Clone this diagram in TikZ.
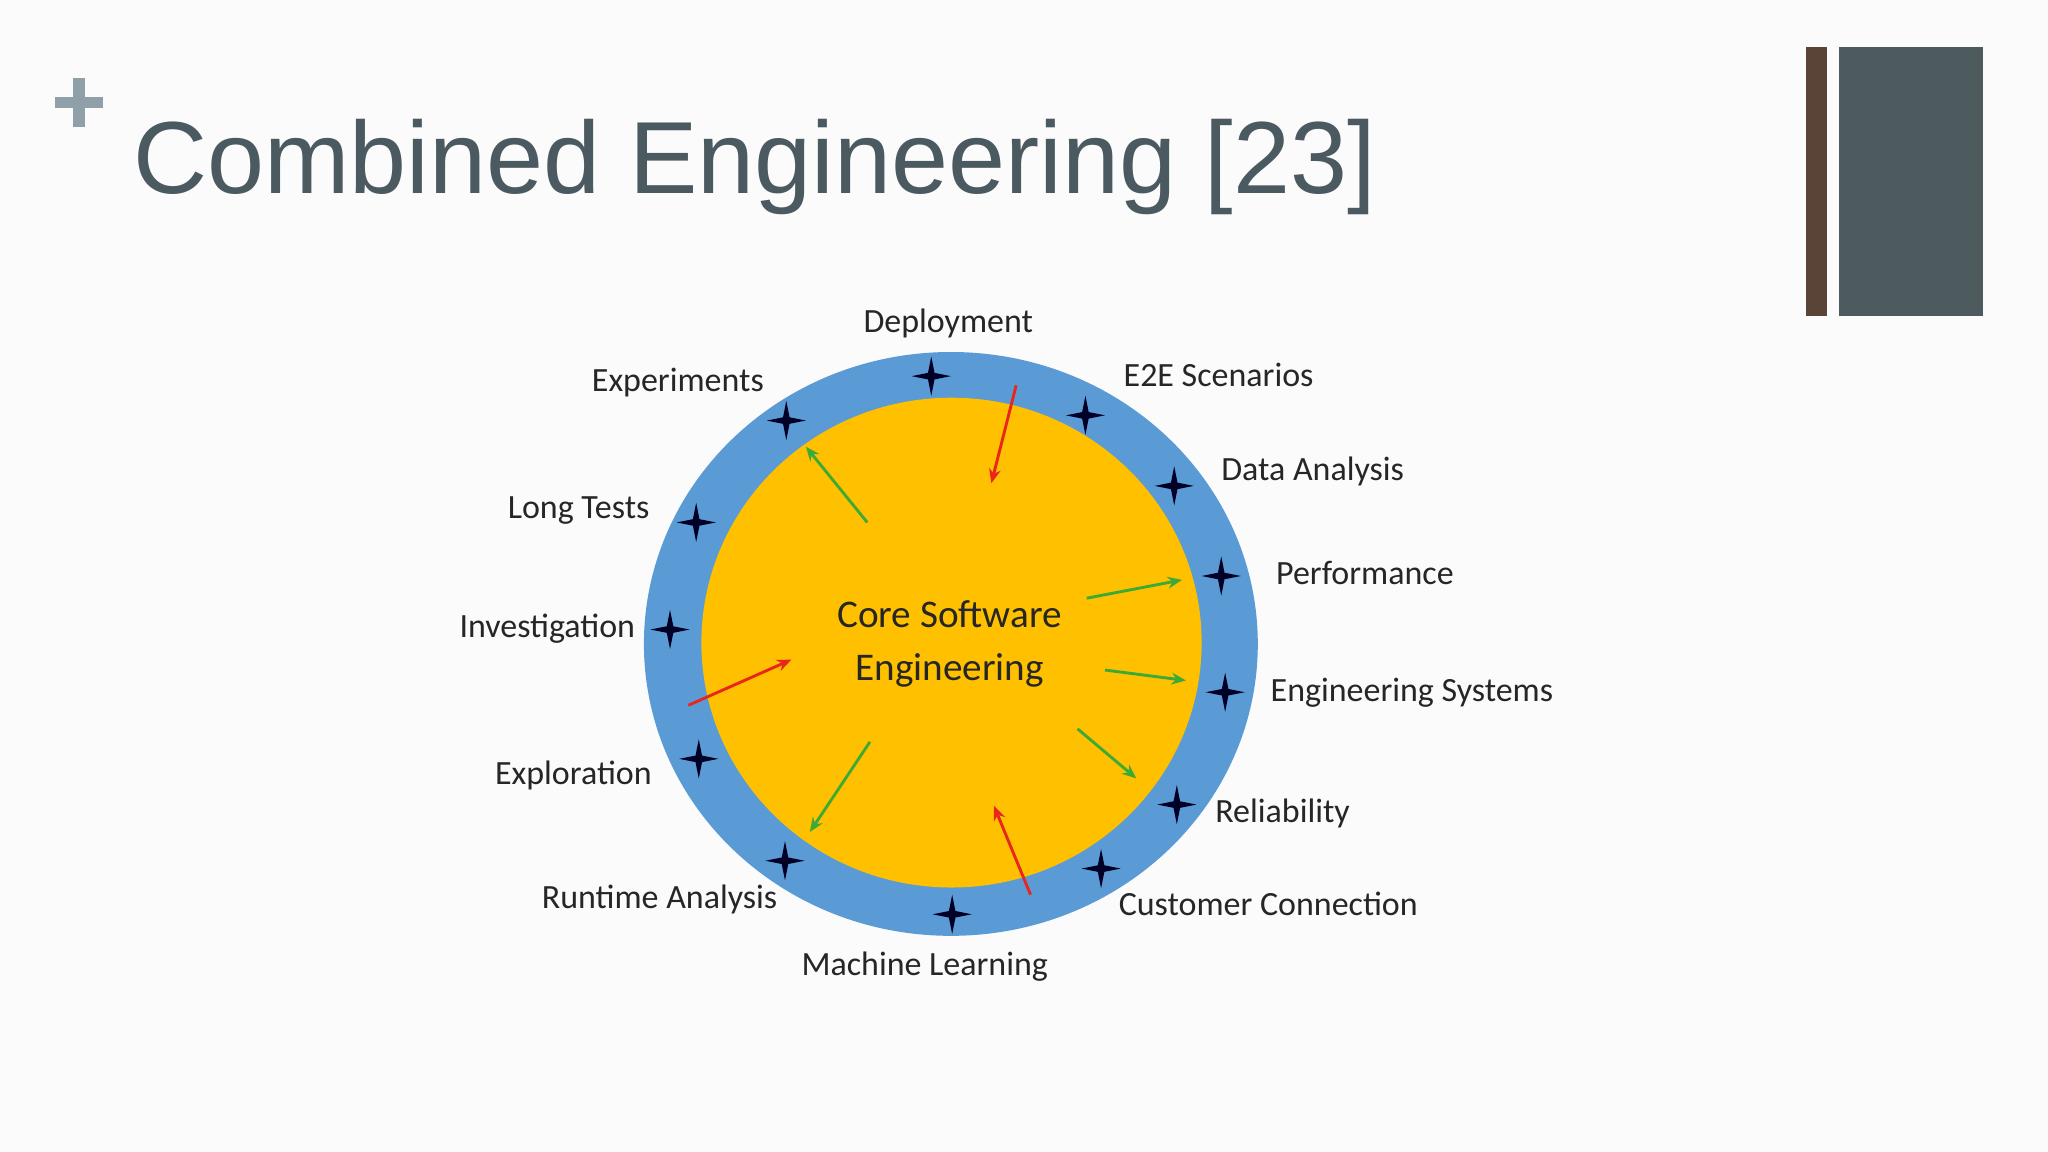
\documentclass[tikz,border=0pt]{standalone}
\usepackage{fontspec}
\setmainfont{Carlito}
\newfontfamily\titlefont{Liberation Sans}
\usetikzlibrary{arrows.meta,shapes.geometric}
\definecolor{ringblue}{HTML}{5B9BD5}
\definecolor{coreyel}{HTML}{FFC000}
\definecolor{titlegray}{HTML}{4A5A60}
\definecolor{plusgray}{HTML}{8FA0A8}
\definecolor{barbrown}{HTML}{5A4438}
\definecolor{bargray}{HTML}{4D5A5E}
\definecolor{argreen}{HTML}{3DAA35}
\definecolor{arred}{HTML}{E8261E}
\tikzset{
  lbl/.style={font=\fontsize{26}{28}\selectfont, text=black!85},
  arr/.style={line width=2.2pt,-{Stealth[length=11pt,width=9pt]}},
  star/.pic={\fill[black!85!blue] (0,-15)--(2.5,-2.5)--(15,0)--(2.5,2.5)--(0,15)--(-2.5,2.5)--(-15,0)--(-2.5,-2.5)--cycle;}
}
\begin{document}
\begin{tikzpicture}[x=1pt,y=-1pt]
\fill[white!97!gray] (0,0) rectangle (1568,882);
\useasboundingbox (0,0) rectangle (1568,882);
% plus
\fill[plusgray] (56,60) rectangle (65,97);
\fill[plusgray] (42,74) rectangle (79,83);
\node[anchor=base west, inner sep=0, text=titlegray, font=\titlefont\fontsize{78.5}{90}\selectfont] (title) at (102,148) {Combined Engineering [23]};
\fill[barbrown] (1383,36) rectangle (1399,242);
\fill[bargray] (1408,36) rectangle (1518,242);
% rings
\node[ellipse, fill=ringblue, minimum width=470, minimum height=447, inner sep=0, draw=none] (ring) at (728,493) {};
\node[ellipse, fill=coreyel, minimum width=383, minimum height=375, inner sep=0, draw=none] (core) at (728.5,492) {};
\node[font=\fontsize{30}{40}\selectfont, align=center, text=black!85] (coretext) at (727,493) {Core Software\\Engineering};
% stars
\foreach \x/\y in {713/288,602/322,831/318,899/372,533/400,935/441,513/482,938/530,535/581,901/616,601/659,843/665,729/700}
  \pic at (\x,\y) {star};
% labels
\node[lbl] (l1) at (726,248) {Deployment};
\node[lbl] (l2) at (519,293) {Experiments};
\node[lbl] (l3) at (933,287) {E2E Scenarios};
\node[lbl] (l4) at (1005,361) {Data Analysis};
\node[lbl] (l5) at (443,391) {Long Tests};
\node[lbl] (l6) at (1045,439) {Performance};
\node[lbl] (l7) at (419,481) {Investigation};
\node[lbl] (l8) at (1081,530) {Engineering Systems};
\node[lbl] (l9) at (439,594) {Exploration};
\node[lbl] (l10) at (982,623) {Reliability};
\node[lbl] (l11) at (505,689) {Runtime Analysis};
\node[lbl] (l12) at (971,692) {Customer Connection};
\node[lbl] (l13) at (708,740) {Machine Learning};
% arrows
\coordinate (a1) at (778,295); \coordinate (b1) at (759,370);
\coordinate (a2) at (664,400); \coordinate (b2) at (617,342);
\coordinate (a3) at (832,458); \coordinate (b3) at (905,444);
\coordinate (a4) at (846,513); \coordinate (b4) at (908,521);
\coordinate (a5) at (527,540); \coordinate (b5) at (606,505);
\coordinate (a6) at (666,568); \coordinate (b6) at (620,637);
\coordinate (a7) at (825,558); \coordinate (b7) at (870,596);
\coordinate (a8) at (789,685); \coordinate (b8) at (761,617);
\draw[arr,arred] (a1)--(b1);
\draw[arr,argreen] (a2)--(b2);
\draw[arr,argreen] (a3)--(b3);
\draw[arr,argreen] (a4)--(b4);
\draw[arr,arred] (a5)--(b5);
\draw[arr,argreen] (a6)--(b6);
\draw[arr,argreen] (a7)--(b7);
\draw[arr,arred] (a8)--(b8);
\end{tikzpicture}
\end{document}
